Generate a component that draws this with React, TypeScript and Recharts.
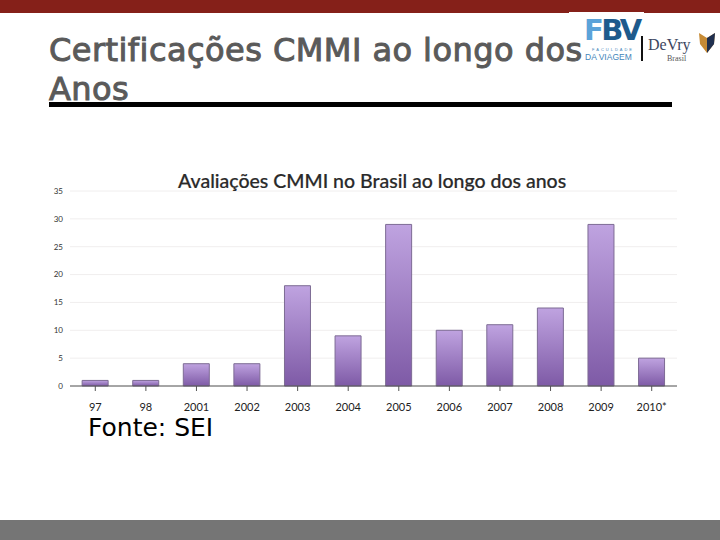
import React from "react";
import { BarChart, Bar, XAxis, YAxis, CartesianGrid } from "recharts";

const categories = ["97", "98", "2001", "2002", "2003", "2004", "2005", "2006", "2007", "2008", "2009", "2010*"];
const values = [1, 1, 4, 4, 18, 9, 29, 10, 11, 14, 29, 5];
const yTicks = [0, 5, 10, 15, 20, 25, 30, 35];
const rows = categories.map((year, i) => ({ year, value: values[i] }));

const abs = (left: number, top: number, extra: React.CSSProperties = {}): React.CSSProperties => ({
  position: "absolute",
  left,
  top,
  ...extra,
});

const titleStyle: React.CSSProperties = {
  fontFamily: "DejaVu Sans",
  fontWeight: 400,
  fontSize: 32,
  lineHeight: "38px",
  letterSpacing: 0.45,
  color: "#5a5a5a",
  whiteSpace: "nowrap",
  WebkitTextStroke: "1px #5a5a5a",
};

export default function App() {
  return (
    <div style={abs(0, 0, { width: 720, height: 540, background: "#fff", overflow: "hidden" })}>
      <div style={abs(0, 0, { width: 720, height: 13, background: "#852019" })} />
      <div style={abs(0, 520, { width: 720, height: 20, background: "#757575" })} />
      <div style={abs(569, 12, { width: 75, height: 50, background: "#fff" })} />

      <div style={abs(49, 31, titleStyle)}>Certificações CMMI ao longo dos</div>
      <div style={abs(49, 70, titleStyle)}>Anos</div>
      <div style={abs(49, 102, { width: 623, height: 5, background: "#000" })} />

      <div style={abs(0, 0)}>
        <BarChart width={720} height={540} data={rows} barCategoryGap="24%" margin={{ top: 191, right: 43, bottom: 124, left: 40 }}>
          <defs>
            <linearGradient id="purple" x1="0" y1="0" x2="0" y2="1">
              <stop offset="0%" stopColor="#bfa3e0" />
              <stop offset="100%" stopColor="#7e5aa6" />
            </linearGradient>
          </defs>
          <CartesianGrid vertical={false} stroke="#f0eeee" />
          <XAxis
            dataKey="year"
            interval={0}
            stroke="#555"
            tickSize={5}
            tickMargin={12}
            tick={{ fontFamily: "Lato", fontSize: 11, fill: "#222" }}
          />
          <YAxis
            width={30}
            domain={[0, 35]}
            ticks={yTicks}
            axisLine={false}
            tickLine={false}
            tickMargin={1}
            tick={{ fontFamily: "Lato", fontSize: 8, fill: "#333" }}
          />
          <Bar dataKey="value" fill="url(#purple)" stroke="#7d6b94" strokeWidth={1} isAnimationActive={false} />
        </BarChart>
      </div>

      <div style={abs(178, 169, { fontFamily: "Lato", fontWeight: 500, fontSize: 19.5, lineHeight: "24px", color: "#2a2a2a", whiteSpace: "nowrap", WebkitTextStroke: "0.2px #2a2a2a" })}>
        Avaliações CMMI no Brasil ao longo dos anos
      </div>
      <div style={abs(88, 413, { fontFamily: "DejaVu Sans", fontSize: 25, lineHeight: "30px", color: "#000", whiteSpace: "nowrap" })}>
        Fonte: SEI
      </div>

      <div style={abs(584, 14, { fontFamily: "DejaVu Sans", fontWeight: 700, fontSize: 29, lineHeight: "32px", color: "#1d5a8c", letterSpacing: -2.5, whiteSpace: "nowrap" })}>
        <span style={{ color: "#5ba3d9" }}>F</span>BV
      </div>
      <div style={abs(592, 47, { fontFamily: "Liberation Sans", fontSize: 4, lineHeight: "5px", letterSpacing: 2, color: "#3f85ba", whiteSpace: "nowrap" })}>
        FACULDADE
      </div>
      <div style={abs(585, 52, { fontFamily: "Liberation Sans", fontSize: 8.5, lineHeight: "10px", color: "#3f85ba", whiteSpace: "nowrap" })}>
        DA VIAGEM
      </div>
      <div style={abs(641, 36, { width: 2, height: 25, background: "#111" })} />
      <div style={abs(648, 36, { fontFamily: "Liberation Serif", fontSize: 16, lineHeight: "18px", color: "#3c4660", whiteSpace: "nowrap" })}>
        DeVry
      </div>
      <div style={abs(667, 54, { fontFamily: "Liberation Serif", fontSize: 8, lineHeight: "10px", color: "#555", whiteSpace: "nowrap" })}>
        Brasil
      </div>
      <svg style={abs(698, 32)} width={18} height={22}>
        <polygon points="1,1 9,6 17,1 16,12 9,21 2,12" fill="#c68a35" />
        <polygon points="9,6 17,1 16,12 9,21" fill="#1f2f4f" />
      </svg>
    </div>
  );
}
